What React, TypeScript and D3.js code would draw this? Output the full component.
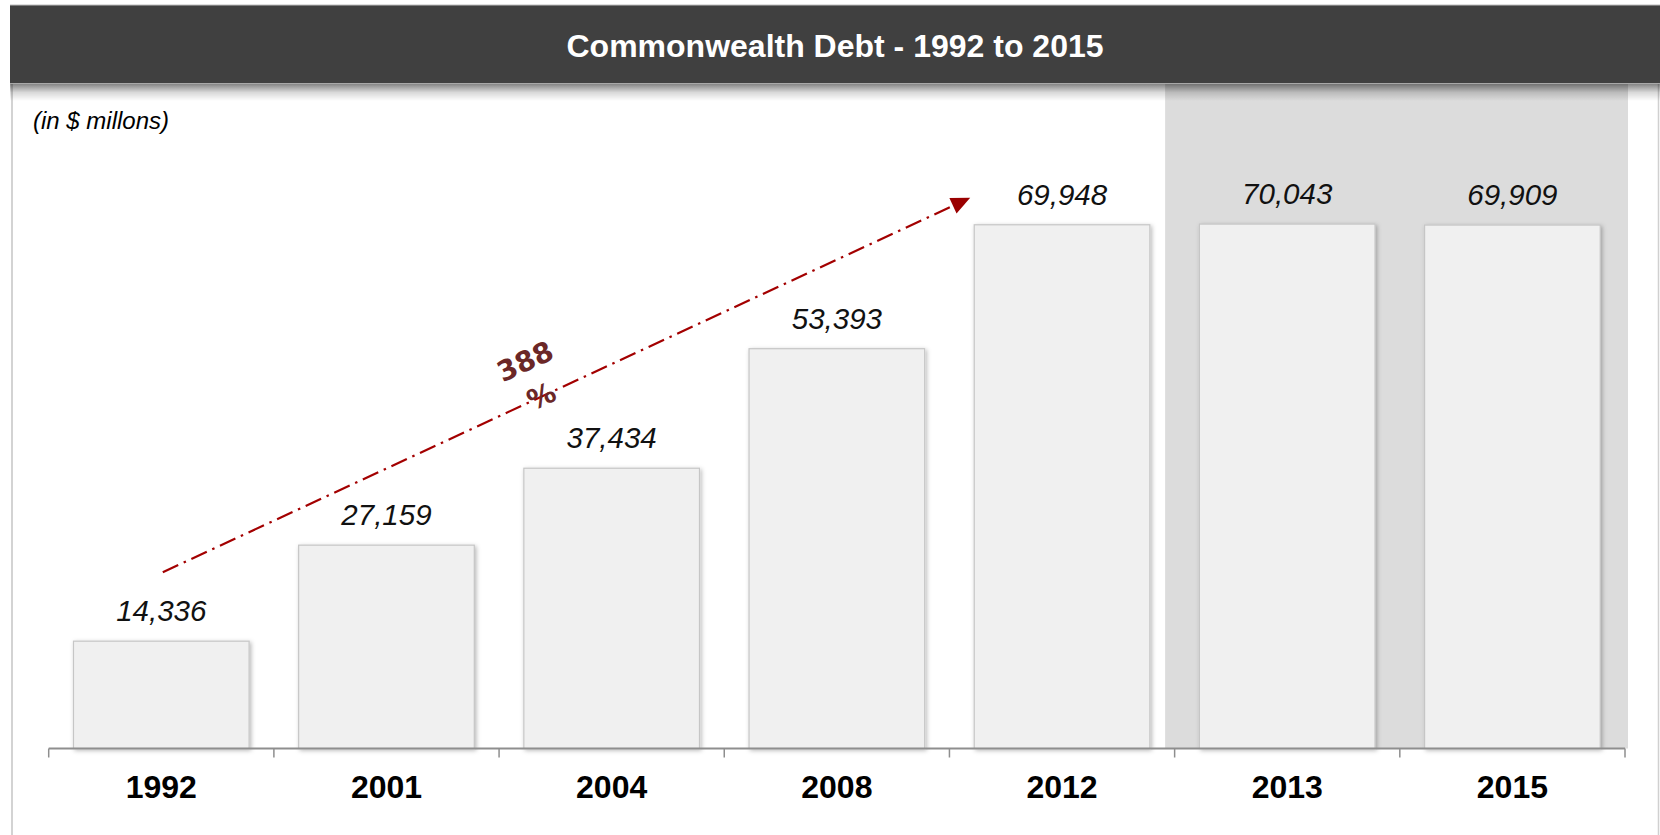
import React from "react";
import * as d3 from "d3";

const years = ["1992", "2001", "2004", "2008", "2012", "2013", "2015"];
const debt = [14336, 27159, 37434, 53393, 69948, 70043, 69909];
const valueLabels = ["14,336", "27,159", "37,434", "53,393", "69,948", "70,043", "69,909"];
const shadedYears = ["2013", "2015"];
const titleText = "Commonwealth Debt - 1992 to 2015";
const unitText = "(in $ millons)";
const growthLines = ["388", "%"];

const W = 1660;
const H = 835;
const AXIS_Y = 748.5;
const TITLE_BOTTOM = 84;

export default function App() {
  const x = d3
    .scaleBand<string>()
    .domain(years)
    .range([48.7, 1625])
    .paddingInner(0.22)
    .paddingOuter(0.11);
  const y = d3.scaleLinear().domain([0, 80000]).range([AXIS_Y, 149.5]);
  const step = x.step();
  const tickXs = years.map((yr) => (x(yr) as number) - step * 0.11).concat([1625]);

  // shaded region for the last years
  const shadeX0 = (x(shadedYears[0]) as number) - step * 0.11 - 9.5;
  const shadeX1 = 1628;

  // growth arrow
  const i0 = 0;
  const i1 = 4;
  const sx = (x(years[i0]) as number) + x.bandwidth() / 2 + 1.5;
  const sy = y(debt[i0]) - 69;
  const ex = (x(years[i1]) as number) - 4;
  const ey = y(debt[i1]) - 27;
  const ang = Math.atan2(ey - sy, ex - sx);
  const angDeg = (ang * 180) / Math.PI;
  const headLen = 19;
  const headW = 8.5;
  const bx = ex - headLen * Math.cos(ang);
  const by = ey - headLen * Math.sin(ang);
  const px = -Math.sin(ang);
  const py = Math.cos(ang);
  const head = [
    [ex, ey],
    [bx + px * headW, by + py * headW],
    [bx - px * headW, by - py * headW],
  ];
  const tText = 0.469;
  const tx = sx + (ex - sx) * tText;
  const tyLine = sy + (ey - sy) * tText;

  return (
    <svg
      width={W}
      height={H}
      style={{ position: "fixed", left: 0, top: 0, background: "#ffffff" }}
      fontFamily="'Liberation Sans', Arial, sans-serif"
    >
      <defs>
        <linearGradient id="titleShadow" x1="0" y1="0" x2="0" y2="1">
          <stop offset="0" stopColor="#000" stopOpacity="0.48" />
          <stop offset="0.5" stopColor="#000" stopOpacity="0.15" />
          <stop offset="1" stopColor="#000" stopOpacity="0" />
        </linearGradient>
        <filter id="barShadow" x="-10%" y="-10%" width="125%" height="125%">
          <feDropShadow dx="1.5" dy="1.5" stdDeviation="2.2" floodColor="#000" floodOpacity="0.28" />
        </filter>
      </defs>

      {/* frame */}
      <rect x={0} y={0} width={W} height={H} fill="#fff" />
      <line x1={12} y1={TITLE_BOTTOM} x2={12} y2={H} stroke="#c4c4c4" strokeWidth={1.5} />
      <line x1={1658.5} y1={TITLE_BOTTOM} x2={1658.5} y2={H} stroke="#d0d0d0" strokeWidth={1.5} />

      {/* shaded region */}
      <rect x={shadeX0} y={TITLE_BOTTOM} width={shadeX1 - shadeX0} height={AXIS_Y - TITLE_BOTTOM} fill="#dcdcdc" />

      {/* title bar */}
      <rect x={10} y={TITLE_BOTTOM} width={W - 10} height={17} fill="url(#titleShadow)" />
      <rect x={10} y={5} width={W - 10} height={TITLE_BOTTOM - 5} fill="#404040" />
      <line x1={10} y1={5} x2={W} y2={5} stroke="#bdbdbd" strokeWidth={1} />
      <line x1={10} y1={TITLE_BOTTOM - 0.5} x2={W} y2={TITLE_BOTTOM - 0.5} stroke="#a8a8a8" strokeWidth={1} />
      <text x={835} y={56.5} textAnchor="middle" fill="#ffffff" fontWeight="bold" fontSize={32}>
        {titleText}
      </text>

      <text x={33} y={129} fontStyle="italic" fontSize={24} fill="#000">
        {unitText}
      </text>

      {/* bars */}
      {years.map((yr, i) => (
        <rect
          key={yr}
          x={x(yr) as number}
          y={y(debt[i])}
          width={x.bandwidth()}
          height={AXIS_Y - y(debt[i])}
          fill="#f0f0f0"
          stroke="#c6c6c6"
          strokeWidth={1.2}
          filter="url(#barShadow)"
        />
      ))}

      {/* value labels */}
      {years.map((yr, i) => (
        <text
          key={"v" + yr}
          x={(x(yr) as number) + x.bandwidth() / 2}
          y={y(debt[i]) - 20}
          textAnchor="middle"
          fontStyle="italic"
          fontSize={29.5}
          fill="#111"
        >
          {valueLabels[i]}
        </text>
      ))}

      {/* axis */}
      <line x1={48.7} y1={AXIS_Y} x2={1625} y2={AXIS_Y} stroke="#8e8e8e" strokeWidth={2} />
      {tickXs.map((tx0, i) => (
        <line key={"t" + i} x1={tx0} y1={AXIS_Y} x2={tx0} y2={757.5} stroke="#8e8e8e" strokeWidth={1.5} />
      ))}
      {years.map((yr) => (
        <text
          key={"c" + yr}
          x={(x(yr) as number) + x.bandwidth() / 2}
          y={797.5}
          textAnchor="middle"
          fontWeight="bold"
          fontSize={32}
          fill="#000"
        >
          {yr}
        </text>
      ))}

      {/* growth arrow */}
      <line
        x1={sx}
        y1={sy}
        x2={bx}
        y2={by}
        stroke="#a30000"
        strokeWidth={2.2}
        strokeDasharray="17 6 2.5 6"
      />
      <polygon points={head.map((p) => p.join(",")).join(" ")} fill="#9a0000" />
      <g transform={`translate(${tx},${tyLine}) rotate(${angDeg})`}>
        {growthLines.map((s, i) => (
          <text
            key={"g" + i}
            x={0}
            y={-38.5 + i * 38.5}
            textAnchor="middle"
            dominantBaseline="central"
            fontFamily="'DejaVu Sans', Verdana, sans-serif"
            fontWeight="bold"
            fontSize={28}
            fill="#6b2727"
          >
            {s}
          </text>
        ))}
      </g>
    </svg>
  );
}
